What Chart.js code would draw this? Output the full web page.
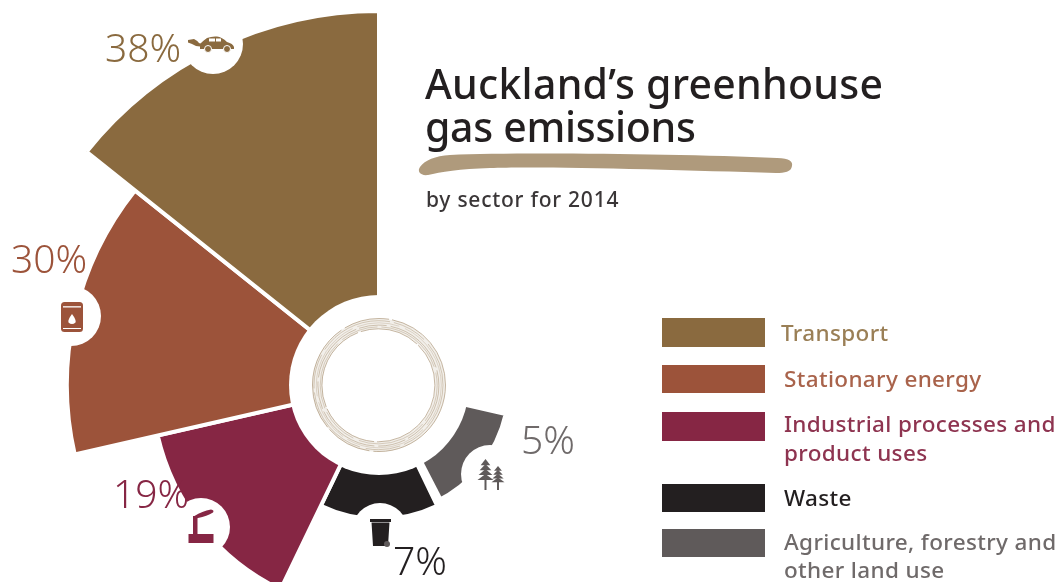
<!DOCTYPE html>
<html>
<head>
<meta charset="utf-8">
<title>Auckland's greenhouse gas emissions</title>
<script src="https://cdn.jsdelivr.net/npm/chart.js@4"></script>
<style>
  html, body { margin: 0; padding: 0; width: 1062px; height: 582px; overflow: hidden; background: #fff; }
  body { position: relative; font-family: "Noto Sans", sans-serif; }
  canvas { position: absolute; left: 0; top: 0; }
  .t { position: absolute; white-space: nowrap; line-height: 1; }
  .swatch { position: absolute; left: 662px; width: 103px; }
</style>
</head>
<body>
<canvas id="chart" width="1062" height="770"></canvas>
<div id="head"></div>
<div id="legend"></div>
<script>
// Sector shares of emissions, in legend order
const categories = ['Transport', 'Stationary energy', 'Industrial processes and product uses', 'Waste', 'Agriculture, forestry and other land use'];
const shares = [38, 30, 19, 7, 5];
const colours = ['#8a6a3f', '#9c533a', '#862644', '#231f20', '#5f5a5a'];
const legendInk = ['#9a7f56', '#a9634b', '#8e3450', '#231f20', '#6f6a6a'];
const title = ['Auckland\u2019s greenhouse', 'gas emissions'];
const subtitle = 'by sector for 2014';

// Legend rows: wrapped text, swatch top, text baselines
const legendLines = [['Transport'], ['Stationary energy'], ['Industrial processes and', 'product uses'], ['Waste'], ['Agriculture, forestry and', 'other land use']];
const swatchTops = [318, 365, 412, 484, 529];
const swatchHeights = [29, 28, 29, 28, 28];
const legendBaselines = [[341], [387], [432, 461], [506], [550, 578]];
const legendLefts = [781, 784, 784, 784, 784];

// Percentage label anchors (left edge, baseline) and icon notches (centre)
const labelAnchors = [[105, 62], [11, 273], [113, 508], [393, 575], [521, 454]];
const notches = [[213, 44, 30], [71, 316, 30], [201, 527, 29], [380, 531, 28], [490, 474, 29]];

const HOLE_RADIUS = 90;
const SMALLEST_WEDGE = 130;

// The two smallest wedges keep a readable depth around the central hole
class FlooredRadialScale extends Chart.RadialLinearScale {
  static id = 'flooredRadial';
  static defaults = Chart.RadialLinearScale.defaults;
  getDistanceFromCenterForValue(v) {
    return Math.max(SMALLEST_WEDGE, super.getDistanceFromCenterForValue(v));
  }
}
Chart.register(FlooredRadialScale);

// Wedges run anticlockwise from twelve o'clock, so they are fed in reverse
const drawnShares = shares.slice().reverse();
const drawnColours = colours.slice().reverse();
const drawnNames = categories.slice().reverse();
const WEDGE_ANGLE = 360 / 7;

function drawCar(c) {
  c.save(); c.translate(180, 28); c.fillStyle = colours[0];
  // exhaust puff
  c.beginPath(); c.moveTo(8, 12); c.lineTo(14, 11); c.quadraticCurveTo(18, 13, 19, 15); c.lineTo(24, 17); c.lineTo(24, 19); c.lineTo(16, 18); c.quadraticCurveTo(12, 15.5, 8, 14.5); c.closePath(); c.fill();
  // body
  c.beginPath();
  c.moveTo(20, 16); c.quadraticCurveTo(24, 12, 27, 10); c.quadraticCurveTo(32, 8, 37, 8.5); c.quadraticCurveTo(42, 9, 47, 14);
  c.quadraticCurveTo(53, 15.5, 54, 19); c.lineTo(54, 21); c.lineTo(20, 21); c.closePath(); c.fill();
  c.fillStyle = '#fff';
  c.fillRect(29, 10.5, 6, 3); c.fillRect(36, 10.5, 5, 3);
  c.fillStyle = colours[0];
  c.strokeStyle = '#fff'; c.lineWidth = 1;
  [[28, 21], [47, 21]].forEach(([x, y]) => { c.beginPath(); c.arc(x, y, 3.5, 0, 7); c.fill(); c.stroke(); });
  c.restore();
}

function drawBarrel(c) {
  c.save(); c.translate(61, 302); c.fillStyle = colours[1];
  c.beginPath(); c.roundRect(0, 0, 22, 30, 3.5); c.fill();
  c.fillStyle = '#fff';
  c.fillRect(2, 4.2, 18, 1.3);
  // fuel drop
  c.beginPath(); c.moveTo(11, 12); c.quadraticCurveTo(15.5, 18, 14.5, 20.5); c.quadraticCurveTo(11, 23.5, 7.5, 20.5); c.quadraticCurveTo(6.5, 18, 11, 12); c.closePath(); c.fill();
  c.fillRect(2, 26, 18, 1);
  c.restore();
}

function drawFactory(c) {
  c.save(); c.translate(180, 500); c.fillStyle = colours[2];
  c.fillRect(8.5, 34, 25, 9);
  c.fillRect(13, 16, 4.5, 19);
  c.beginPath(); c.moveTo(14.5, 16); c.quadraticCurveTo(22, 11, 31, 9.5); c.quadraticCurveTo(34.5, 10, 33, 12.5); c.quadraticCurveTo(27, 16, 18, 18); c.lineTo(14, 19); c.closePath(); c.fill();
  c.restore();
}

function drawBin(c) {
  c.save(); c.translate(370, 519); c.fillStyle = colours[3];
  c.fillRect(0, 0, 21, 3);
  c.beginPath(); c.moveTo(1.5, 3.5); c.lineTo(19.5, 3.5); c.lineTo(18, 27); c.lineTo(3, 27); c.closePath(); c.fill();
  c.fillStyle = '#5f5a5a';
  c.beginPath(); c.arc(17, 25, 3, 0, 7); c.fill();
  c.restore();
}

function drawTree(c, cx, top, h, w) {
  const tiers = 4;
  for (let i = 0; i < tiers; i++) {
    const y = top + i * h * 0.16;
    const half = w * (0.6 + 0.4 * i / (tiers - 1)) / 2;
    c.beginPath(); c.moveTo(cx, y); c.lineTo(cx + half, y + h * 0.2); c.lineTo(cx - half, y + h * 0.2); c.closePath(); c.fill();
  }
  c.fillRect(cx - 1, top + h * 0.6, 2, h * 0.4);
}

function drawBrush(c) {
  c.save(); c.fillStyle = '#af9a7c';
  c.beginPath();
  c.moveTo(420, 167);
  c.bezierCurveTo(425, 160, 435, 156, 450, 155);
  c.bezierCurveTo(520, 152, 680, 154, 777, 158);
  c.bezierCurveTo(790, 158, 793, 162, 792, 166);
  c.bezierCurveTo(791, 172, 785, 173, 776, 173);
  c.bezierCurveTo(680, 170, 540, 166, 490, 168);
  c.bezierCurveTo(460, 169, 440, 172, 428, 175);
  c.bezierCurveTo(420, 176, 417, 171, 420, 167);
  c.closePath(); c.fill();
  c.restore();
}

// Weathered ring in the middle of the hole: a faint band crossed by broken circles
function drawRing(c, x, y) {
  const strokes = [
    [56.5, -0.6, 0.3, 1.0, 0.6, [90, 3, 60, 2]],
    [58.5, -0.3, 0.4, 0.9, 0.4, [38, 4, 70, 6]],
    [60.5, -0.6, 0.6, 0.9, 0.5, [64, 3, 28, 4]],
    [62.5, -0.2, 0.3, 0.8, 0.35, [43, 6, 82, 5]],
    [64.5, -0.5, 0.2, 0.9, 0.45, [75, 4, 35, 6]],
    [66.5, 0, 0, 1.0, 0.6, [110, 4, 46, 3]]
  ];
  c.save();
  c.strokeStyle = 'rgba(175,154,124,0.16)';
  c.lineWidth = 10;
  c.beginPath(); c.arc(x - 0.3, y + 0.3, 61.5, 0, Math.PI * 2); c.stroke();
  strokes.forEach(([r, dx, dy, w, a, dash]) => {
    c.strokeStyle = 'rgba(160,135,102,' + a + ')';
    c.lineWidth = w;
    c.setLineDash(dash);
    c.beginPath(); c.arc(x + dx, y + dy, r, 0, Math.PI * 2); c.stroke();
  });
  c.restore();
}

const sectorDecor = {
  id: 'sectorDecor',
  afterDatasetsDraw(chart) {
    const c = chart.ctx;
    const r = chart.scales.r;
    const x = r.xCenter, y = r.yCenter;
    c.save();
    c.fillStyle = '#fff';
    c.beginPath(); c.arc(x, y, HOLE_RADIUS, 0, Math.PI * 2); c.fill();
    notches.forEach(([nx, ny, nr]) => { c.beginPath(); c.arc(nx, ny, nr, 0, Math.PI * 2); c.fill(); });

    // slightly wider split between the two smallest wedges
    const split = (360 - 207.4) * Math.PI / 180 - Math.PI / 2;
    c.strokeStyle = '#fff'; c.lineWidth = 8;
    c.beginPath();
    c.moveTo(x + 85 * Math.cos(split), y + 85 * Math.sin(split));
    c.lineTo(x + 145 * Math.cos(split), y + 145 * Math.sin(split));
    c.stroke();

    drawRing(c, x, y);
    drawCar(c); drawBarrel(c); drawFactory(c); drawBin(c);
    c.fillStyle = colours[4];
    drawTree(c, 485.5, 459, 31, 16);
    drawTree(c, 498, 466, 24, 13);
    drawBrush(c);

    c.font = '300 39px "Noto Sans"';
    c.textBaseline = 'alphabetic';
    shares.forEach((v, i) => {
      c.fillStyle = i === 4 ? '#6f6a6a' : colours[i];
      c.fillText(v + '%', labelAnchors[i][0], labelAnchors[i][1]);
    });
    c.restore();
  }
};

new Chart(document.getElementById('chart'), {
  type: 'polarArea',
  plugins: [sectorDecor],
  data: {
    labels: drawnNames,
    datasets: [{
      data: drawnShares,
      backgroundColor: drawnColours,
      borderColor: '#fff',
      borderWidth: 4,
      borderJoinStyle: 'miter',
      angle: WEDGE_ANGLE,
      clip: false
    }]
  },
  options: {
    responsive: false,
    animation: false,
    devicePixelRatio: 1,
    layout: { padding: { left: 5, right: 309, top: 11, bottom: 11 } },
    plugins: { legend: { display: false }, tooltip: { enabled: false } },
    scales: {
      r: {
        type: 'flooredRadial',
        display: false,
        min: -10.34,
        max: 38,
        startAngle: 360 - 5 * WEDGE_ANGLE
      }
    }
  }
});

// Heading and legend as page text
function addText(parent, text, left, baseline, size, weight, colour, spacing) {
  const el = document.createElement('div');
  el.className = 't';
  el.textContent = text;
  el.style.cssText = 'left:' + left + 'px;font-size:' + size + 'px;font-weight:' + weight + ';color:' + colour + ';letter-spacing:' + spacing + 'px;';
  // line-height 1: Noto Sans baseline falls about 0.85em below the top of the box
  el.style.top = (baseline - size * 0.85) + 'px';
  parent.appendChild(el);
}
const head = document.getElementById('head');
addText(head, title[0], 425, 98, 41, 500, '#231f20', 0.25);
addText(head, title[1], 425, 141, 41, 500, '#231f20', -0.3);
addText(head, subtitle, 426, 207, 21, 500, '#3a3637', 0.75);

const legend = document.getElementById('legend');
categories.forEach((name, i) => {
  const s = document.createElement('div');
  s.className = 'swatch';
  s.style.top = swatchTops[i] + 'px';
  s.style.height = swatchHeights[i] + 'px';
  s.style.background = colours[i];
  legend.appendChild(s);
  legendLines[i].forEach((line, j) => {
    addText(legend, line, legendLefts[i], legendBaselines[i][j], 22.5, 500, legendInk[i], 0.35);
  });
});
</script>
</body>
</html>
